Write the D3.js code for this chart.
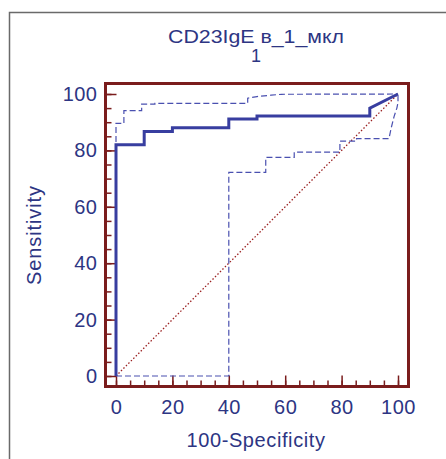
<!DOCTYPE html>
<meta charset="utf-8">
<script src="https://cdn.jsdelivr.net/npm/d3@7"></script>
<style>
  body { margin: 0; background: #fff; }
  text { font-family: "Liberation Sans", Arial, sans-serif; fill: #2d3583; }
</style>
<svg></svg>
<script>
    // ROC curve (100-Specificity, Sensitivity)
    var rocX = [0, 0, 10, 10, 20, 20, 40, 40, 50, 50, 90, 90, 100];
    var rocY = [0, 82, 82, 86.7, 86.7, 88, 88, 91.1, 91.1, 92.2, 92.2, 95, 100];
    // upper confidence bound
    var upX = [0, 0, 2.8, 2.8, 9.1, 9.1, 13.8, 13.8, 46.7, 46.7, 50, 55, 58.7, 100];
    var upY = [0, 89.6, 89.6, 94.1, 94.1, 96.4, 96.4, 96.7, 96.7, 98.5, 99.1, 99.6, 99.9, 100];
    // lower confidence bound
    var loX = [0, 40, 40, 53.1, 53.1, 63.2, 63.2, 79.4, 79.4, 85.3, 85.3, 96.8, 97.6, 98.6, 99.6, 100, 100];
    var loY = [0, 0, 72.2, 72.2, 77.5, 77.5, 79.4, 79.4, 83.3, 83.3, 84.2, 84.2, 88, 92, 95, 97, 100];
    var majorTicks = [0, 20, 40, 60, 80, 100];
    var minorTicks = d3.range(0, 101, 5);

    var W = 446, H = 459;
    var svg = d3.select("svg").attr('width', W).attr('height', H);
    var x = d3.scaleLinear().domain([0, 100]).range([116, 398]);
    var y = d3.scaleLinear().domain([0, 100]).range([376, 94]);
    var pad = 10.5;
    var dark = '#7a1c1c';
    var ink = '#2d3583';

    // outer border
    svg.append('path')
        .attr('d', 'M9.5,' + H + 'V12.5H' + W)
        .attr('fill', 'none').attr('stroke', '#6a6a6a').attr('stroke-width', 1.5);

    // title (two lines)
    svg.append('text').attr('x', 256).attr('y', 43).attr('text-anchor', 'middle')
        .attr('textLength', 176).attr('lengthAdjust', 'spacingAndGlyphs')
        .style('font-size', '18px').text('CD23IgE в_1_мкл');
    svg.append('text').attr('x', 256).attr('y', 62).attr('text-anchor', 'middle')
        .style('font-size', '18px').text('1');

    var fLeft = x(0) - pad, fRight = x(100) + pad, fTop = y(100) - pad, fBottom = y(0) + pad;

    // ticks pointing inward from frame
    function ticks(axis, vals, size, tr) {
        svg.append('g').attr('transform', tr)
            .call(axis.tickValues(vals).tickSize(size).tickFormat(''))
            .call(g => g.select('.domain').remove())
            .selectAll('line').attr('stroke', dark).attr('stroke-width', 1.5);
    }
    ticks(d3.axisRight(y), minorTicks, 6, 'translate(' + fLeft + ',0)');
    ticks(d3.axisRight(y), majorTicks, 11, 'translate(' + fLeft + ',0)');
    ticks(d3.axisTop(x), minorTicks, 6, 'translate(0,' + fBottom + ')');
    ticks(d3.axisTop(x), majorTicks, 11, 'translate(0,' + fBottom + ')');

    // tick labels
    svg.append('g').attr('transform', 'translate(' + fLeft + ',0)')
        .call(d3.axisLeft(y).tickValues(majorTicks).tickSize(0).tickPadding(8))
        .call(g => g.select('.domain').remove())
        .selectAll('text').style('font-size', '20px').style('letter-spacing', '0.5px').style('fill', ink);
    svg.append('g').attr('transform', 'translate(0,' + fBottom + ')')
        .call(d3.axisBottom(x).tickValues(majorTicks).tickSize(0).tickPadding(13))
        .call(g => g.select('.domain').remove())
        .selectAll('text').style('font-size', '20px').style('letter-spacing', '0.5px').style('fill', ink);

    // axis titles
    svg.append('text').attr('x', 256).attr('y', 447).attr('text-anchor', 'middle')
        .style('font-size', '20px').style('letter-spacing', '0.6px').text('100-Specificity');
    svg.append('text').attr('transform', 'translate(41,235) rotate(-90)')
        .attr('text-anchor', 'middle').style('font-size', '20px').style('letter-spacing', '0.9px')
        .text('Sensitivity');

    var line = d3.line().x(d => x(d[0])).y(d => y(d[1]));

    // diagonal
    svg.append('path').attr('d', line([[0, 0], [100, 100]]))
        .attr('fill', 'none').attr('stroke', '#9a2020').attr('stroke-width', 1.3)
        .attr('stroke-dasharray', '1.5,2');

    // confidence bounds
    [[upX, upY], [loX, loY]].forEach(function (s) {
        svg.append('path').attr('d', line(d3.zip(s[0], s[1])))
            .attr('fill', 'none').attr('stroke', '#4a50b0').attr('stroke-width', 1.2)
            .attr('stroke-dasharray', '6,3');
    });

    // ROC curve
    svg.append('path').attr('d', line(d3.zip(rocX, rocY)))
        .attr('fill', 'none').attr('stroke', '#383ea0').attr('stroke-width', 3);

    // frame
    svg.append('rect').attr('x', fLeft).attr('y', fTop)
        .attr('width', fRight - fLeft).attr('height', fBottom - fTop)
        .attr('fill', 'none').attr('stroke', dark).attr('stroke-width', 3);
</script>
